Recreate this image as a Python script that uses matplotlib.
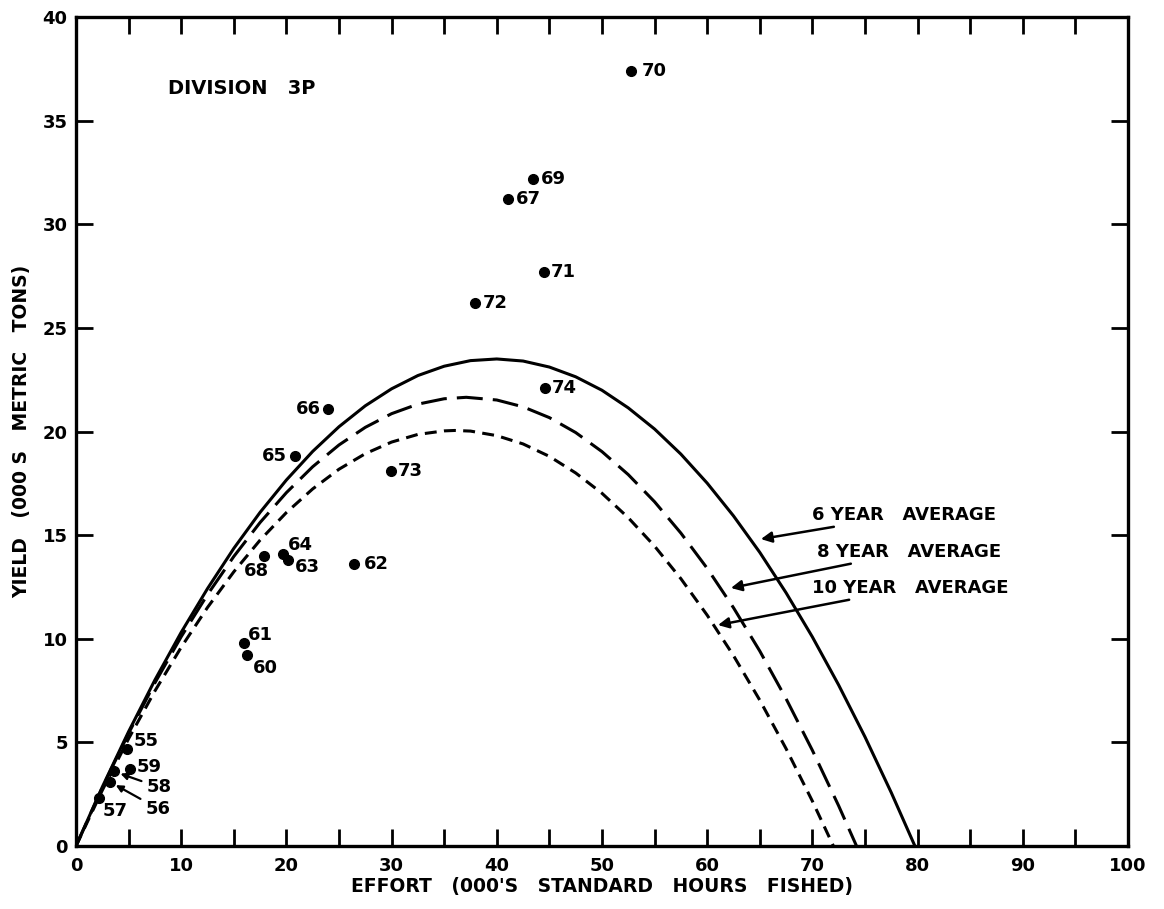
"""Division 3P yield vs effort, with 6/8/10-year average production curves."""

import matplotlib

matplotlib.use("Agg")
import matplotlib.pyplot as plt
from matplotlib.ticker import MultipleLocator

# annual points: year label, effort ('000 std hours), yield ('000 t)
YEARS = ["55", "56", "57", "58", "59", "60", "61", "62", "63", "64",
         "65", "66", "67", "68", "69", "70", "71", "72", "73", "74"]
EFFORT = [4.8, 3.2, 2.2, 3.6, 5.1, 16.3, 16.0, 26.4, 20.2, 19.7,
          20.8, 24.0, 41.1, 17.9, 43.4, 52.8, 44.5, 37.9, 29.9, 44.6]
YIELD = [4.7, 3.1, 2.3, 3.6, 3.7, 9.2, 9.8, 13.6, 13.8, 14.1,
         18.8, 21.1, 31.2, 14.0, 32.2, 37.4, 27.7, 26.2, 18.1, 22.1]

# curves
CURVE_6_X = [0, 2.5, 5, 7.5, 10, 12.5, 15, 17.5, 20, 22.5, 25, 27.5, 30, 32.5, 35, 37.5,
             40, 42.5, 45, 47.5, 50, 52.5, 55, 57.5, 60, 62.5, 65, 67.5, 70, 72.5, 75, 77.5, 79.75]
CURVE_6_Y = [0, 2.85, 5.52, 8.01, 10.31, 12.42, 14.36, 16.10, 17.66, 19.04, 20.23, 21.24, 22.06,
             22.70, 23.15, 23.42, 23.50, 23.40, 23.11, 22.64, 21.99, 21.14, 20.12, 18.91, 17.51,
             15.93, 14.17, 12.22, 10.09, 7.77, 5.27, 2.58, 0]
CURVE_8_X = [0, 2.5, 5, 7.5, 10, 12.5, 15, 17.5, 20, 22.5, 25, 27.5, 30, 32.5, 35, 37.1,
             40, 42.5, 45, 47.5, 50, 52.5, 55, 57.5, 60, 62.5, 65, 67.5, 70, 72.5, 74.2]
CURVE_8_Y = [0, 2.82, 5.44, 7.87, 10.10, 12.13, 13.97, 15.61, 17.05, 18.30, 19.35, 20.20, 20.86,
             21.32, 21.58, 21.65, 21.52, 21.19, 20.67, 19.95, 19.03, 17.92, 16.61, 15.10, 13.40,
             11.50, 9.41, 7.11, 4.62, 1.94, 0]
CURVE_10_X = [0, 2.5, 5, 7.5, 10, 12.5, 15, 17.5, 20, 22.5, 25, 27.5, 30, 32.5, 35, 36, 37.5,
              40, 42.5, 45, 47.5, 50, 52.5, 55, 57.5, 60, 62.5, 65, 67.5, 70, 72]
CURVE_10_Y = [0, 2.69, 5.18, 7.48, 9.59, 11.51, 13.23, 14.76, 16.09, 17.23, 18.18, 18.93, 19.49,
              19.86, 20.03, 20.05, 20.02, 19.80, 19.40, 18.80, 18.00, 17.02, 15.84, 14.47, 12.90,
              11.14, 9.19, 7.04, 4.70, 2.17, 0]

CURVE_LABELS = ["6 YEAR   AVERAGE", "8 YEAR   AVERAGE", "10 YEAR   AVERAGE"]

# label offsets in pixels (dx, dy, ha) per year
LABEL_OFFSETS = {
    "55": (7, 8, "left"), "56": (36, -27, "left"), "57": (3, -13, "left"),
    "58": (33, -16, "left"), "59": (7, 2, "left"), "60": (5, -13, "left"),
    "61": (4, 8, "left"), "62": (10, 0, "left"), "63": (6, -7, "left"),
    "64": (5, 9, "left"), "65": (-8, 0, "right"), "66": (-8, 0, "right"),
    "67": (8, 0, "left"), "68": (-20, -15, "left"), "69": (8, 0, "left"),
    "70": (10, 0, "left"), "71": (7, 0, "left"), "72": (8, 0, "left"),
    "73": (7, 0, "left"), "74": (7, 0, "left"),
}
ARROWED = {"56", "58"}

FONT = dict(family="DejaVu Sans", weight="bold", color="black")

fig = plt.figure(figsize=(11.64, 9.09), dpi=100)
ax = fig.add_axes([0.0653, 0.0693, 0.9037, 0.912])

lw = 2.2
ax.plot(CURVE_6_X, CURVE_6_Y, color="black", lw=lw, solid_capstyle="butt")
ax.plot(CURVE_8_X, CURVE_8_Y, color="black", lw=lw, linestyle=(0, (8.5, 3.3)))
ax.plot(CURVE_10_X, CURVE_10_Y, color="black", lw=lw, linestyle=(0, (3.9, 2.4)))

ax.plot(EFFORT, YIELD, "o", color="black", markersize=7, zorder=5)

for yr, x, y in zip(YEARS, EFFORT, YIELD):
    dx, dy, ha = LABEL_OFFSETS[yr]
    if yr in ARROWED:
        ax.annotate(yr, xy=(x, y), xytext=(dx, dy), textcoords="offset pixels",
                    ha=ha, va="center", fontsize=13, **FONT,
                    arrowprops=dict(arrowstyle="-|>", color="black", lw=1.6,
                                    shrinkA=2, shrinkB=5, mutation_scale=10))
    else:
        ax.annotate(yr, xy=(x, y), xytext=(dx, dy), textcoords="offset pixels",
                    ha=ha, va="center", fontsize=13, **FONT)

# curve labels with arrows pointing onto the curves
label_pos = [(69.96, 15.97), (70.44, 14.19), (69.96, 12.45)]
arrow_tip = [(65.11, 14.81), (62.26, 12.45), (61.03, 10.66)]
for text, (tx, ty), (ax_, ay) in zip(CURVE_LABELS, label_pos, arrow_tip):
    ax.annotate(text, xy=(ax_, ay), xytext=(tx, ty), ha="left", va="center",
                fontsize=13, **FONT,
                arrowprops=dict(arrowstyle="-|>", color="black", lw=1.8,
                                shrinkA=0, shrinkB=0, mutation_scale=16))

ax.text(8.75, 36.57, "DIVISION   3P", ha="left", va="center", fontsize=14, **FONT)

ax.set_xlim(0, 100)
ax.set_ylim(0, 40)
ax.xaxis.set_major_locator(MultipleLocator(10))
ax.xaxis.set_minor_locator(MultipleLocator(5))
ax.yaxis.set_major_locator(MultipleLocator(5))
ax.tick_params(axis="both", which="both", direction="in", length=12, width=2,
               top=True, right=True, pad=6)
ax.tick_params(axis="x", which="major", pad=8)
for lab in ax.get_xticklabels() + ax.get_yticklabels():
    lab.set_fontsize(13)
    lab.set_fontweight("bold")
for sp in ax.spines.values():
    sp.set_linewidth(2.4)

ax.set_xlabel("EFFORT   (000'S   STANDARD   HOURS   FISHED)", fontsize=13.5,
              labelpad=1, **FONT)
ax.set_ylabel("YIELD   (000 S   METRIC   TONS)", fontsize=13.5, labelpad=8, **FONT)

fig.savefig("out.png", dpi=100)
